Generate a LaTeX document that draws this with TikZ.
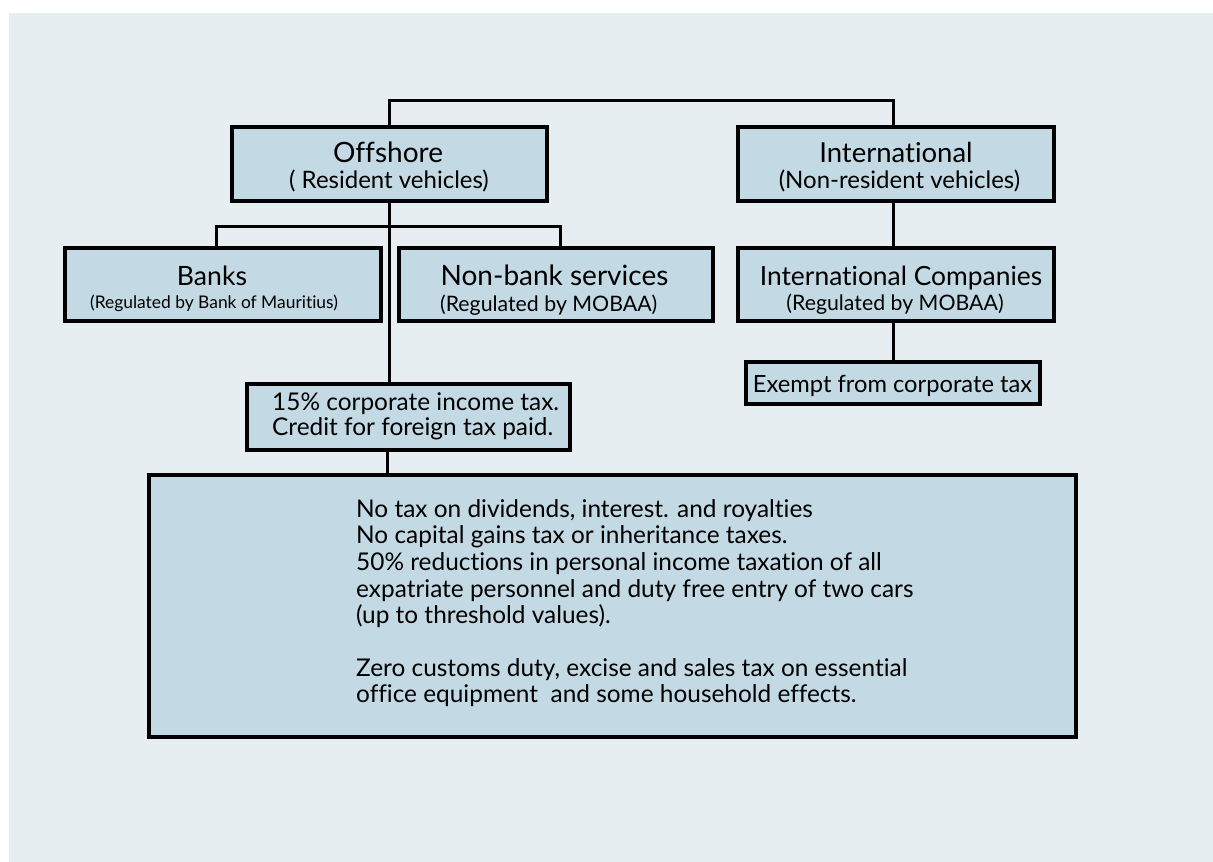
\documentclass[tikz,border=0pt]{standalone}
\usepackage{fontspec}
\setmainfont{Lato}[Ligatures=NoCommon]
\definecolor{panel}{RGB}{230,238,242}
\definecolor{boxfill}{RGB}{195,217,228}
\begin{document}
\begin{tikzpicture}[x=1pt,y=-1pt,
  box/.style={draw=black, line width=4pt, fill=boxfill, inner sep=0pt, anchor=center},
  conn/.style={draw=black, line width=3pt},
  lbl/.style={inner sep=0pt, anchor=base, text=black},
  lbll/.style={inner sep=0pt, anchor=base west, text=black},
  fs/.style={font=\fontsize{#1}{#1}\selectfont},
  body/.style={font=\fontsize{24.4}{26}\selectfont}]
\useasboundingbox (0,0) rectangle (1213,862);
\fill[panel] (9,13) rectangle (1213,862);
% connector bends
\coordinate (top) at (640,100);
\coordinate (br) at (388,226);
% boxes
\node[box, minimum width=315, minimum height=74] (off) at (389.5,164) {};
\node[box, minimum width=316, minimum height=74] (intl) at (896,164) {};
\node[box, minimum width=316, minimum height=73] (banks) at (223,284.5) {};
\node[box, minimum width=314, minimum height=73] (nonbank) at (556,284.5) {};
\node[box, minimum width=316, minimum height=73] (intco) at (896,284.5) {};
\node[box, minimum width=294, minimum height=42] (exempt) at (893,383) {};
\node[box, minimum width=323, minimum height=66] (tax) at (408.5,417) {};
\node[box, minimum width=927, minimum height=262] (big) at (612.5,606) {};
% connectors
\draw[conn] (off.north) |- (top) -| ([xshift=-3pt]intl.north);
\draw[conn] (off.south) -- (off.south |- tax.north);
\draw[conn] ([xshift=-7pt]banks.north) |- (br) -| ([xshift=4pt]nonbank.north);
\draw[conn] ([xshift=-21.5pt]tax.south) -- ([xshift=-21.5pt]tax.south |- big.north);
\draw[conn] ([xshift=-3pt]intl.south) -- ([xshift=-3pt]intl.south |- intco.north);
\draw[conn] (exempt.north |- intco.south) -- (exempt.north);
% labels
\node[lbl, fs=28] (t1) at (388,162) {Offshore};
\node[lbl, fs=24] (s1) at (389,188) {( Resident vehicles)};
\node[lbl, fs=27.5] (t2) at (896,162) {International};
\node[lbl, fs=24] (s2) at (899.5,188) {(Non-resident vehicles)};
\node[lbl, fs=26.6] (t3) at (212,285) {Banks};
\node[lbl, fs=17.4] (s3) at (214,308) {(Regulated by Bank of Mauritius)};
\node[lbl, fs=28] (t4) at (554.5,285) {Non-bank services};
\node[lbl, fs=21.3] (s4) at (548.7,311) {(Regulated by MOBAA)};
\node[lbl, fs=26.4] (t5) at (901,285) {International Companies};
\node[lbl, fs=21.3] (s5) at (895,310) {(Regulated by MOBAA)};
\node[lbl, fs=23.7] (t6) at (892.5,392) {Exempt from corporate tax};
\node[lbll, body] (x1) at (272,410) {15\% corporate income tax.};
\node[lbll, body] (x2) at (272,435) {Credit for foreign tax paid.};
\foreach \yy/\txt [count=\i] in {517/{No tax on dividends, interest. and royalties},
  543.5/{No capital gains tax or inheritance taxes.},
  570/{50\% reductions in personal income taxation of all},
  597/{expatriate personnel and duty free entry of two cars},
  623/{(up to threshold values).},
  676/{Zero customs duty, excise and sales tax on essential},
  702/{office equipment\ \ and some household effects.}}
  \node[lbll, body] (b\i) at (356,\yy) {\txt};
\end{tikzpicture}
\end{document}
